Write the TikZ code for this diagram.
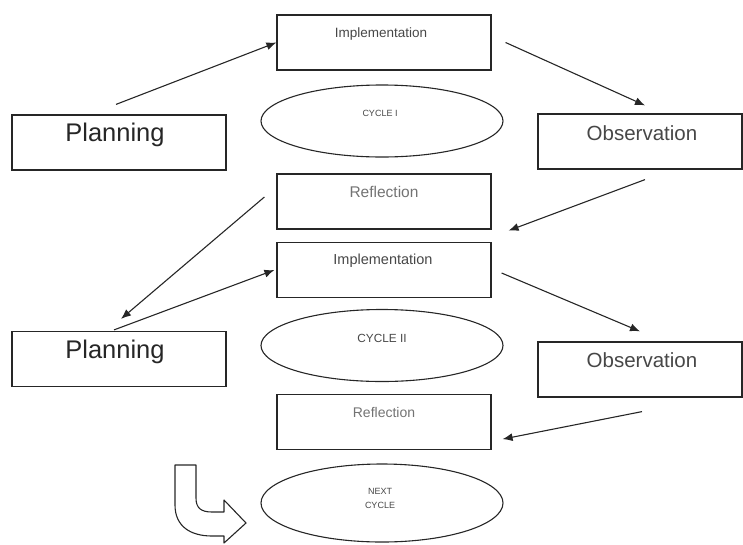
\documentclass[tikz,border=0pt]{standalone}
\usepackage{fontspec}
\setmainfont{Liberation Sans}
\usepackage{xcolor}
\usetikzlibrary{arrows.meta,shapes.geometric,positioning}

\begin{document}
\begin{tikzpicture}[x=1pt,y=-1pt,
        box/.style={draw=black!85, line width=1.2pt, minimum width=214pt, minimum height=55pt, inner sep=0pt},
        obsbox/.style={box, minimum width=204pt},
        cyc/.style={draw=black!85, ellipse, line width=1.1pt, minimum width=242pt, minimum height=72pt, inner sep=0pt},
        txt/.style={inner sep=0pt, text=black!72},
        arr/.style={-{Latex[length=10pt,width=8pt]}, line width=1.1pt, draw=black!85}]
        \useasboundingbox (0,0) rectangle (743,544);

        % cycle I
        \node[box] (impl1) at (384,42.5) {};
        \node[box] (plan1) at (119,142.5) {};
        \node[obsbox] (obs1) at (640,141.5) {};
        \node[box] (refl1) at (384,201.5) {};
        \node[cyc] (cyc1) at (382,121) {};

        % cycle II
        \node[box] (impl2) at (384,270) {};
        \node[box] (plan2) at (119,359) {};
        \node[obsbox] (obs2) at (640,369.5) {};
        \node[box] (refl2) at (384,422) {};
        \node[cyc] (cyc2) at (382,345.5) {};

        \node[cyc, minimum height=78pt] (cyc3) at (382,503) {};

        % texts
        \node[txt, font=\fontsize{13.5}{16}\selectfont] (impl1t) at ([xshift=-3pt,yshift=-20pt]impl1.north) {Implementation};
        \node[txt, text=black!85, font=\fontsize{25.5}{30}\selectfont] (plan1t) at ([xshift=-4pt,yshift=-21pt]plan1.north) {Planning};
        \node[txt, font=\fontsize{20.5}{24}\selectfont] (obs1t) at ([xshift=2pt,yshift=-20pt]obs1.north) {Observation};
        \node[txt, text=black!55, font=\fontsize{15.5}{18}\selectfont] (refl1t) at ([yshift=-19pt]refl1.north) {Reflection};
        \node[txt, font=\fontsize{9}{11}\selectfont] (cyc1t) at ([xshift=-2pt,yshift=8pt]cyc1.center) {CYCLE I};

        \node[txt, font=\fontsize{14.5}{17}\selectfont] (impl2t) at ([xshift=-1pt,yshift=-19pt]impl2.north) {Implementation};
        \node[txt, text=black!85, font=\fontsize{25.5}{30}\selectfont] (plan2t) at ([xshift=-4pt,yshift=-21pt]plan2.north) {Planning};
        \node[txt, font=\fontsize{20.5}{24}\selectfont] (obs2t) at ([xshift=2pt,yshift=-19pt]obs2.north) {Observation};
        \node[txt, text=black!55, font=\fontsize{14}{17}\selectfont] (refl2t) at ([yshift=-19pt]refl2.north) {Reflection};
        \node[txt, font=\fontsize{11.8}{14}\selectfont] (cyc2t) at ([yshift=7.5pt]cyc2.center) {CYCLE II};

        \node[txt, align=center, font=\fontsize{9}{14}\selectfont] (cyc3t) at ([xshift=-2pt,yshift=5pt]cyc3.center) {NEXT\\CYCLE};

        % arrows
        \draw[arr] ([xshift=-3pt,yshift=10pt]plan1.north) -- (impl1.west);
        \draw[arr] ([xshift=14pt]impl1.east) -- ([xshift=5pt,yshift=8pt]obs1.north);
        \draw[arr] ([xshift=5pt,yshift=-10pt]obs1.south) -- ([xshift=17pt,yshift=-1pt]refl1.south east);
        \draw[arr] ([xshift=-12pt,yshift=4.5pt]refl1.west) -- ([xshift=2pt,yshift=12pt]plan2.north);
        \draw[arr] ([xshift=-5pt,yshift=1pt]plan2.north) -- ([xshift=-2pt]impl2.west);
        \draw[arr] ([xshift=10pt,yshift=-3pt]impl2.east) -- ([yshift=10pt]obs2.north);
        \draw[arr] ([xshift=2pt,yshift=-14pt]obs2.south) -- ([xshift=11pt,yshift=11pt]refl2.south east);

        % bent arrow to next cycle
        \draw[line width=1.1pt, draw=black!85, line join=round] (175,465) -- (175,505)
            .. controls (175,526) and (190,536) .. (212,536) -- (224,536) -- (224,543)
            -- (246,523) -- (224,500) -- (224,512) -- (212,512)
            .. controls (201,512) and (196,508) .. (196,498) -- (196,465) -- cycle;
    \end{tikzpicture}
\end{document}
